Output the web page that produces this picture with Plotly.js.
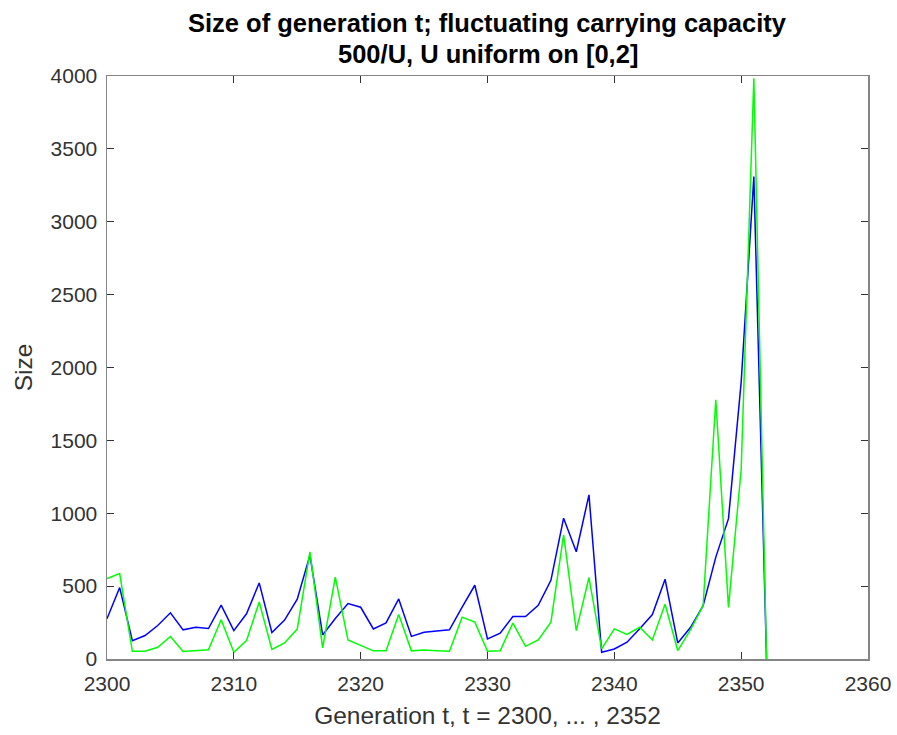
<!DOCTYPE html>
<html>
<head>
<meta charset="utf-8">
<script src="https://cdn.plot.ly/plotly-3.0.1.min.js"></script>
<style>html,body{margin:0;padding:0;background:#fff;}#chart{width:897px;height:735px;}</style>
</head>
<body>
<div id="chart"></div>
<script>
const generations = [];
for (let t = 2300; t <= 2352; t++) generations.push(t);

const sizeBlue = [276,490,126,161,230,317,200,218,209,370,
                  195,310,522,182,267,411,712,165,278,380,
                  355,206,248,412,155,183,192,200,356,506,
                  138,177,292,292,368,540,966,736,1126,46,
                  69,115,207,305,547,110,216,366,699,963,
                  1900,3310,0];

const sizeGreen = [552,586,53,53,80,154,51,57,64,269,
                   46,126,391,66,110,205,735,77,562,130,
                   95,56,56,306,56,62,57,53,287,253,
                   53,57,246,87,131,253,851,195,559,69,
                   207,168,218,131,376,58,200,366,1779,354,
                   1300,3985,0];

const xTicks = [2300,2310,2320,2330,2340,2350,2360];
const yTicks = [0,500,1000,1500,2000,2500,3000,3500,4000];

const titleLines = ['Size of generation t; fluctuating carrying capacity', '500/U, U uniform on [0,2]'];

const font = 'Liberation Sans, Arial, Helvetica, sans-serif';

const traces = [
  {x: generations, y: sizeBlue, type: 'scatter', mode: 'lines',
   line: {color: '#0000ff', width: 1.5}, hoverinfo: 'skip'},
  {x: generations, y: sizeGreen, type: 'scatter', mode: 'lines',
   line: {color: '#00ff00', width: 1.5}, hoverinfo: 'skip'}
];

const axisCommon = {
  showgrid: false, zeroline: false,
  showline: true, linecolor: '#858585', linewidth: 1.5, mirror: 'allticks',
  ticks: 'inside', ticklen: 7, tickwidth: 1, tickcolor: '#333',
  tickfont: {family: font, size: 21, color: '#333'}
};

const layout = {
  width: 897, height: 735,
  margin: {l: 107, r: 29, t: 76, b: 76},
  paper_bgcolor: '#fff', plot_bgcolor: '#fff',
  showlegend: false,
  annotations: [
    {text: '<b>' + titleLines[0] + '</b>', xref: 'paper', yref: 'paper', x: 0.5, y: 1,
     xanchor: 'center', yanchor: 'middle', yshift: 53, showarrow: false,
     font: {family: font, size: 25.5, color: '#000'}},
    {text: '<b>' + titleLines[1] + '</b>', xref: 'paper', yref: 'paper', x: 0.5, y: 1,
     xanchor: 'center', yanchor: 'middle', yshift: 22, showarrow: false,
     font: {family: font, size: 25.5, color: '#000'}}
  ],
  xaxis: Object.assign({}, axisCommon, {
    range: [2300, 2360], tickvals: xTicks, ticktext: xTicks.map(String),
    ticklabelstandoff: 5,
    title: {text: 'Generation t, t = 2300, ... , 2352', font: {family: font, size: 24.5, color: '#333'}, standoff: 13}
  }),
  yaxis: Object.assign({}, axisCommon, {
    range: [0, 4000], tickvals: yTicks, ticktext: yTicks.map(String),
    ticklabelstandoff: 4,
    title: {text: 'Size', font: {family: font, size: 24.5, color: '#333'}, standoff: 11}
  })
};

Plotly.newPlot('chart', traces, layout, {displayModeBar: false, staticPlot: true});
</script>
</body>
</html>
